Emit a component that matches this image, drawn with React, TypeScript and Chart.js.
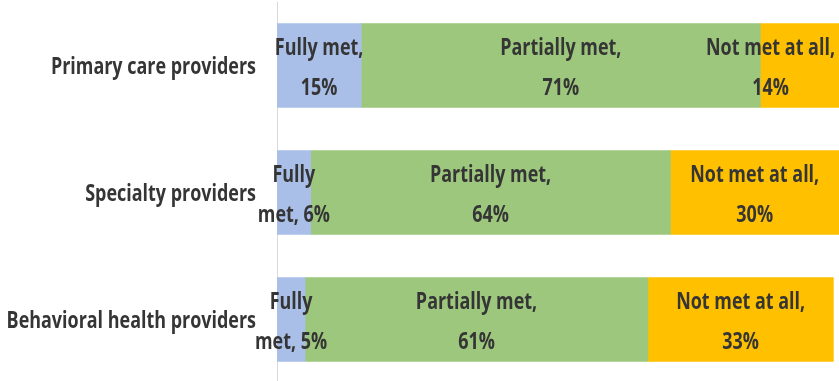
import { useEffect, useRef } from "react";
import { Chart, registerables } from "chart.js";
import type { Plugin } from "chart.js";

Chart.register(...registerables);

// Survey results: share of needs met, by provider type (percent)
const categories = ["Primary care providers", "Specialty providers", "Behavioral health providers"];
const seriesNames = ["Fully met", "Partially met", "Not met at all"];
const fullyMet = [15, 6, 5];
const partiallyMet = [71, 64, 61];
const notMetAtAll = [14, 30, 33];
const seriesColors = ["#A9BFE7", "#9CC77D", "#FFC000"];

const FONT = "'Open Sans', 'Noto Sans', sans-serif";
const FONT_SIZE = 23;
const SQUEEZE = 0.78; // horizontal compression for a condensed look
const TEXT_COLOR = "#353535";

function drawSqueezed(ctx: CanvasRenderingContext2D, text: string, x: number, y: number) {
  ctx.save();
  ctx.translate(x, y);
  ctx.scale(SQUEEZE, 1);
  ctx.fillText(text, 0, 0);
  ctx.restore();
}

// Category names to the left of the axis, plus "Series, value%" inside each segment
const textLayer: Plugin<"bar"> = {
  id: "textLayer",
  afterDatasetsDraw(chart) {
    const { ctx, chartArea } = chart;
    const yScale = chart.scales.y;
    ctx.save();
    ctx.font = `bold ${FONT_SIZE}px ${FONT}`;
    ctx.fillStyle = TEXT_COLOR;
    ctx.textBaseline = "alphabetic";

    // category labels
    ctx.textAlign = "right";
    (chart.data.labels as string[]).forEach((lab, i) => {
      const y = yScale.getPixelForValue(i);
      drawSqueezed(ctx, lab, chartArea.left - 21, y + 8.5);
    });

    // segment labels
    ctx.textAlign = "center";
    chart.data.datasets.forEach((ds, di) => {
      const meta = chart.getDatasetMeta(di);
      meta.data.forEach((el: any, i: number) => {
        const v = ds.data[i] as number;
        const name = String(ds.label);
        const span = Math.abs(el.x - el.base);
        let lines: string[];
        if (span < 50) {
          const sp = name.indexOf(" ");
          lines = [name.slice(0, sp), `${name.slice(sp + 1)}, ${v}%`];
        } else {
          lines = [`${name},`, `${v}%`];
        }
        const w = Math.max(...lines.map((l) => ctx.measureText(l).width)) * SQUEEZE;
        let cx = (el.x + el.base) / 2;
        cx = Math.min(cx, chart.width - 4 - w / 2);
        cx = Math.max(cx, 2 + w / 2);
        drawSqueezed(ctx, lines[0], cx, el.y - 10.5);
        drawSqueezed(ctx, lines[1], cx, el.y + 29.5);
      });
    });
    ctx.restore();
  },
};

export default function App() {
  const canvasRef = useRef<HTMLCanvasElement | null>(null);

  useEffect(() => {
    if (!canvasRef.current) return;
    const values = [fullyMet, partiallyMet, notMetAtAll];
    const chart = new Chart(canvasRef.current, {
      type: "bar",
      data: {
        labels: categories,
        datasets: seriesNames.map((name, k) => ({
          label: name,
          data: values[k],
          backgroundColor: seriesColors[k],
          borderWidth: 0,
          barThickness: 84,
        })),
      },
      options: {
        indexAxis: "y",
        animation: false,
        responsive: false,
        devicePixelRatio: 1,
        layout: { padding: { top: 2, bottom: 1, left: 0, right: 0 } },
        plugins: {
          legend: { display: false },
          tooltip: { enabled: false },
        },
        scales: {
          x: {
            stacked: true,
            min: 0,
            max: 100,
            display: false,
          },
          y: {
            stacked: true,
            grid: { display: false, drawTicks: false },
            border: { display: true, color: "#D9D9D9", width: 1 },
            ticks: { display: false },
            afterFit: (scale: any) => {
              scale.width = 277;
              scale.paddingTop = 0;
              scale.paddingBottom = 0;
            },
          },
        },
      },
      plugins: [textLayer],
    });
    return () => chart.destroy();
  }, []);

  return (
    <div style={{ position: "fixed", left: 0, top: 0, width: 839, height: 384, background: "#fff" }}>
      <canvas ref={canvasRef} width={839} height={384} />
    </div>
  );
}
